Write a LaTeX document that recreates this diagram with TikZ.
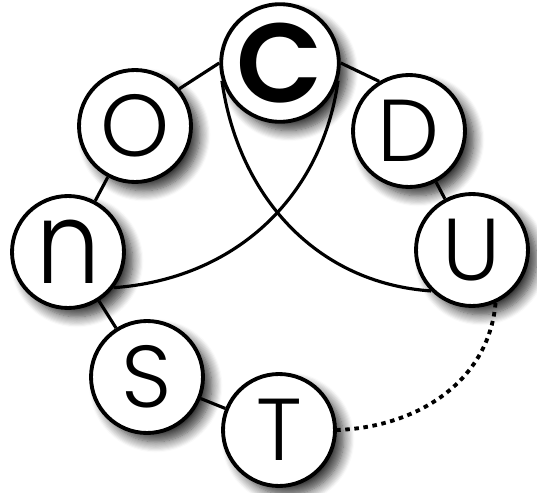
\documentclass[tikz,border=0pt]{standalone}
\usepackage{fontspec}
\usepackage{graphicx}
\newfontfamily\letterfont{Poppins Light}
\newfontfamily\heavyletterfont{Poppins SemiBold}
\usetikzlibrary{shadows.blur,backgrounds}

\tikzset{
    letter/.style={circle, draw, line width=2.2pt, fill=white, minimum size=2.24cm, inner sep=0pt,
        font=\letterfont\fontsize{50}{50}\selectfont,
        blur shadow={shadow xshift=5pt, shadow yshift=-5pt, shadow blur steps=10, shadow blur radius=6pt, shadow opacity=80}},
    link/.style={line width=1.8pt},
    loose/.style={line width=2.2pt, dash pattern=on 2.6pt off 2.6pt}
}

\begin{document}
\begin{tikzpicture}[x=0.02cm, y=-0.02cm, line cap=butt]
    \useasboundingbox (0,0) rectangle (537,493);

    % --- 1. Letters round the ring ---
    \node[letter] (C) at (280,63) {\heavyletterfont\fontsize{64}{64}\selectfont C};
    \node[letter] (O) at (135,126) {O};
    \node[letter] (D) at (409,131) {D};
    \node[letter] (n) at (68,252) {\scalebox{1.15}[1.3]{n}};
    \node[letter] (U) at (472,250) {U};
    \node[letter] (S) at (147,377) {S};
    \node[letter] (T) at (279,430) {T};

    % --- 2. Links (behind the letters) ---
    \begin{scope}[on background layer]
        \draw[link] (C.west) -- (O.40);
        \draw[link] (C.east) -- (D.121);
        \draw[link] (O) -- (n);
        \draw[link] (n) -- (S);
        \draw[link] (S) -- (T);
        \draw[link] (D) -- (U);
        % crossing arcs
        \draw[link] (C.197) to[out=-82, in=176] (U.225);
        \draw[link] (C.-17) to[out=-98, in=4] (n.-38);
        % open end
        \draw[loose] (U.-66) to[out=-95, in=2] (T.east);
    \end{scope}
\end{tikzpicture}
\end{document}
